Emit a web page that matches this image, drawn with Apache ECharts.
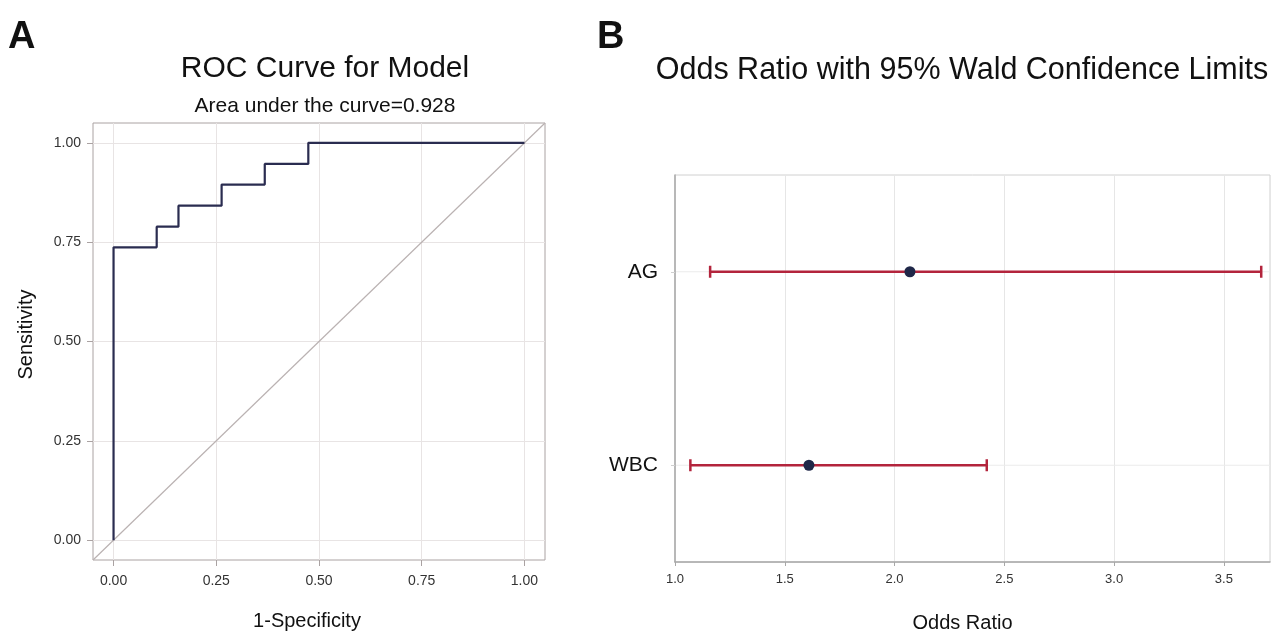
<!DOCTYPE html>
<html>
<head>
<meta charset="utf-8">
<script src="https://cdn.jsdelivr.net/npm/echarts@6/dist/echarts.min.js"></script>
<style>
  html, body { margin: 0; padding: 0; background: #fff; }
  #chart { width: 1274px; height: 631px; }
</style>
</head>
<body>
<div id="chart"></div>
<script>
// ROC curve steps (panel A)
const rocFpr = [0, 0, 0.105, 0.105, 0.158, 0.158, 0.263, 0.263, 0.368, 0.368, 0.474, 0.474, 1];
const rocTpr = [0, 0.737, 0.737, 0.789, 0.789, 0.842, 0.842, 0.895, 0.895, 0.947, 0.947, 1, 1];
const diagX = [-0.05, 1.05];
const rocTicks = [0, 0.25, 0.5, 0.75, 1];

// odds ratios (panel B)
const orNames = ['AG', 'WBC'];
const orEstimate = [2.07, 1.61];
const orLower = [1.16, 1.07];
const orUpper = [3.67, 2.42];

const FONT = '"Liberation Sans", Arial, sans-serif';
const frameColor = '#aaa2a2';
const gridColor = '#e8e4e4';
const navy = '#2a2c50';
const red = '#b3243c';

const chart = echarts.init(document.getElementById('chart'));

const rocData = rocFpr.map((x, i) => [x, rocTpr[i]]);
const diagData = diagX.map(v => [v, v]);
const barData = orNames.map((n, i) => [i, orLower[i], orUpper[i]]);
const pointData = orNames.map((n, i) => [orEstimate[i], i]);

const fmt2 = v => v.toFixed(2);

const option = {
  backgroundColor: '#fff',
  animation: false,
  textStyle: { fontFamily: FONT },
  title: [
    { text: 'A', left: 3, top: 14, textStyle: { fontSize: 38, fontWeight: 'bold', color: '#111', fontFamily: FONT } },
    { text: 'ROC Curve for Model', left: 320, top: 49, textAlign: 'center',
      textStyle: { fontSize: 30, fontWeight: 'normal', color: '#111', fontFamily: FONT } },
    { text: 'Area under the curve=0.928', left: 320, top: 91, textAlign: 'center',
      textStyle: { fontSize: 21, fontWeight: 'normal', color: '#111', fontFamily: FONT } },
    { text: 'B', left: 592, top: 14, textStyle: { fontSize: 38, fontWeight: 'bold', color: '#111', fontFamily: FONT } },
    { text: 'Odds Ratio with 95% Wald Confidence Limits', left: 957, top: 50, textAlign: 'center',
      textStyle: { fontSize: 30.5, fontWeight: 'normal', color: '#111', fontFamily: FONT } }
  ],
  grid: [
    { left: 93, top: 123, width: 452, height: 437, show: true, borderColor: frameColor, borderWidth: 1,
      containLabel: false, outerBoundsMode: 'none' },
    { left: 675, top: 175, width: 595, height: 387, show: true, borderColor: '#d0d0d0', borderWidth: 1,
      containLabel: false, outerBoundsMode: 'none' }
  ],
  xAxis: [
    {
      gridIndex: 0, type: 'value', min: -0.05, max: 1.05,
      name: '1-Specificity', nameLocation: 'middle', nameGap: 51,
      nameTextStyle: { fontSize: 20, color: '#111', fontFamily: FONT, padding: [0, 24, 0, 0] },
      axisLine: { show: false, onZero: false },
      axisTick: { show: true, length: 6, customValues: rocTicks, lineStyle: { color: frameColor } },
      axisLabel: { customValues: rocTicks, formatter: fmt2, fontSize: 14, color: '#333', margin: 14 },
      splitLine: { show: true, lineStyle: { color: gridColor } }
    },
    {
      gridIndex: 1, type: 'value', min: 1, max: 3.71, interval: 0.5,
      name: 'Odds Ratio', nameLocation: 'middle', nameGap: 51,
      nameTextStyle: { fontSize: 20, color: '#111', fontFamily: FONT, padding: [0, 20, 0, 0] },
      axisLine: { show: true, onZero: false, lineStyle: { color: '#a8a8a8', width: 1.5 } },
      axisTick: { show: true, length: 4, lineStyle: { color: '#a8a8a8' } },
      axisLabel: { fontSize: 13, color: '#333', margin: 11, showMaxLabel: false,
        formatter: v => (Math.abs(v * 2 - Math.round(v * 2)) < 1e-6 ? v.toFixed(1) : '') },
      splitLine: { show: true, lineStyle: { color: '#e6e6e6' } }
    }
  ],
  yAxis: [
    {
      gridIndex: 0, type: 'value', min: -0.05, max: 1.05,
      name: 'Sensitivity', nameLocation: 'middle', nameGap: 57, nameRotate: 90,
      nameTextStyle: { fontSize: 20, color: '#111', fontFamily: FONT, padding: [0, 0, 0, 14] },
      axisLine: { show: false, onZero: false },
      axisTick: { show: true, length: 6, customValues: rocTicks, lineStyle: { color: frameColor } },
      axisLabel: { customValues: rocTicks, formatter: fmt2, fontSize: 14, color: '#333', margin: 12 },
      splitLine: { show: true, lineStyle: { color: gridColor } }
    },
    {
      gridIndex: 1, type: 'category', data: orNames, inverse: true,
      axisLine: { show: true, onZero: false, lineStyle: { color: '#a8a8a8', width: 1.5 } },
      axisTick: { show: true, alignWithLabel: true, length: 4, lineStyle: { color: '#cfcfcf' } },
      axisLabel: { fontSize: 21, color: '#111', margin: 17 },
      splitLine: { show: false }
    }
  ],
  series: [
    {
      type: 'line', xAxisIndex: 0, yAxisIndex: 0, data: diagData, symbol: 'none',
      lineStyle: { color: '#bab2b2', width: 1.2 }, silent: true
    },
    {
      type: 'line', xAxisIndex: 0, yAxisIndex: 0, data: rocData, symbol: 'none',
      lineStyle: { color: navy, width: 2.2 }, silent: true
    },
    {
      type: 'custom', xAxisIndex: 1, yAxisIndex: 1, data: barData,
      encode: { x: [1, 2], y: 0 },
      renderItem: function (params, api) {
        const cat = api.value(0);
        const lo = api.coord([api.value(1), cat]);
        const hi = api.coord([api.value(2), cat]);
        const cs = params.coordSys;
        const cap = 6;
        const st = () => ({ stroke: red, lineWidth: 2.5, fill: null });
        return {
          type: 'group',
          children: [
            // light reference line across the panel at this category
            { type: 'line', z2: 0,
              shape: { x1: cs.x + 1, y1: lo[1], x2: cs.x + cs.width, y2: lo[1] },
              style: { stroke: '#ebebeb', lineWidth: 1, fill: null } },
            { type: 'line', z2: 1, shape: { x1: lo[0], y1: lo[1], x2: hi[0], y2: hi[1] }, style: st() },
            { type: 'line', z2: 1, shape: { x1: lo[0], y1: lo[1] - cap, x2: lo[0], y2: lo[1] + cap }, style: st() },
            { type: 'line', z2: 1, shape: { x1: hi[0], y1: hi[1] - cap, x2: hi[0], y2: hi[1] + cap }, style: st() }
          ]
        };
      },
      z: 3
    },
    {
      type: 'scatter', xAxisIndex: 1, yAxisIndex: 1, data: pointData,
      symbol: 'circle', symbolSize: 11, itemStyle: { color: '#1f2748', opacity: 1 }, z: 4
    }
  ]
};

chart.setOption(option);
</script>
</body>
</html>
